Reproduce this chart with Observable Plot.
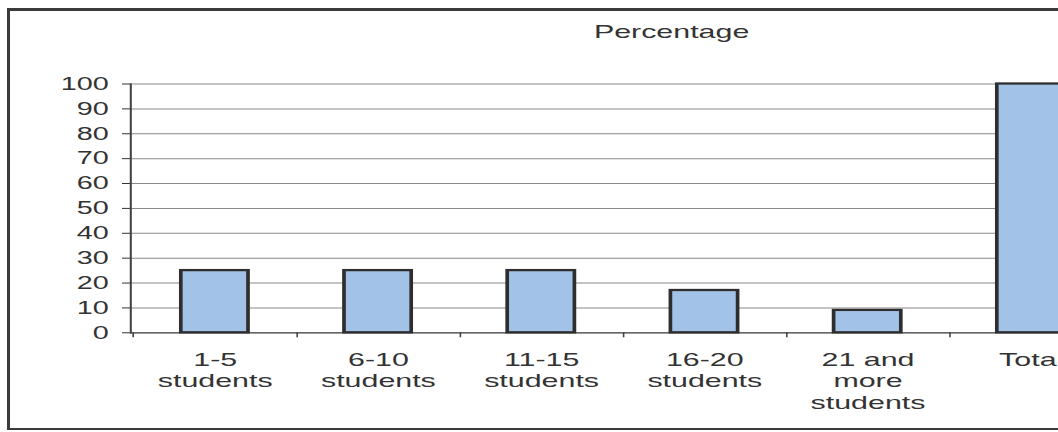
<!DOCTYPE html>
<html>
<head>
<meta charset="utf-8">
<script src="https://cdn.jsdelivr.net/npm/d3@7"></script>
<script src="https://cdn.jsdelivr.net/npm/@observablehq/plot@0.6"></script>
<style>
  html, body { margin: 0; padding: 0; background: #fff; overflow: hidden; width: 1058px; height: 432px; }
  #wrap { position: relative; width: 1058px; height: 432px; overflow: hidden; }
  #frame { position: absolute; left: 7px; top: 8px; width: 1200px; height: 422px; border: 3px solid #3b3b3b; border-bottom-width: 2px; box-sizing: border-box; pointer-events: none; }
  #wrap svg { position: absolute; left: 0; top: 0; }
</style>
</head>
<body>
<div id="wrap"></div>
<script>
// ---- data ----
const categories = ["1-5\nstudents", "6-10\nstudents", "11-15\nstudents", "16-20\nstudents", "21 and\nmore\nstudents", "Total"];
const percentages = [25, 25, 25, 17, 9, 100];
const yTicks = [0, 10, 20, 30, 40, 50, 60, 70, 80, 90, 100];
const chartTitle = "Percentage";

const data = categories.map((c, i) => ({ category: c, value: percentages[i] }));

// The reference is horizontally stretched; draw at a narrower width and stretch the SVG.
const SX = 1.6;
const W = 1058 / SX, H = 432;
const left = 130 / SX, step = 164 / SX;
const ink = "#333";

const chart = Plot.plot({
  width: W,
  height: H,
  marginLeft: left,
  marginRight: 0,
  marginTop: 83.5,
  marginBottom: 99.7,
  style: { fontFamily: "'Liberation Sans', Arial, sans-serif", fontSize: "18px", color: ink, background: "transparent" },
  x: { domain: categories, range: [left, left + step * categories.length], paddingInner: 0.59, paddingOuter: 0.295, label: null },
  y: { domain: [0, 100], label: null },
  marks: [
    Plot.gridY(yTicks, { stroke: "#8a8a8a", strokeOpacity: 1, strokeWidth: 1 }),
    Plot.axisY(yTicks, { tickSize: 5, tickPadding: 8.75, fontSize: 18, color: ink, label: null }),
    Plot.ruleY([0], { stroke: "#555", strokeWidth: 1.2 }),
    Plot.axisX(categories.slice(0, -1), { tickSize: 5, tickFormat: () => "", dx: step / 2, stroke: "#444", label: null }),
    Plot.axisX(categories.slice(0, 1), { tickSize: 5, tickFormat: () => "", dx: -step / 2, stroke: "#444", label: null }),
    Plot.axisX({ tickSize: 0, tickPadding: 17.5, fontSize: 19, lineHeight: 1.14, color: ink, label: null }),
    Plot.frame({ anchor: "left", stroke: "#444", strokeWidth: 1.3 }),
    Plot.barY(data, { x: "category", y: "value", fill: "#a3c2e8", stroke: "#2e2e2e", strokeWidth: 2.3 }),
    Plot.text([chartTitle], { text: d => d, frameAnchor: "top", lineAnchor: "top", dx: 48, dy: -59.3, fontSize: 19, fill: ink })
  ]
});

chart.setAttribute("width", 1058);
chart.setAttribute("height", H);
chart.setAttribute("viewBox", `0 0 ${W} ${H}`);
chart.setAttribute("preserveAspectRatio", "none");
chart.style.maxWidth = "none";
chart.style.width = "1058px";
chart.style.height = H + "px";

const wrap = document.getElementById("wrap");
wrap.appendChild(chart);
const frame = document.createElement("div");
frame.id = "frame";
wrap.appendChild(frame);
</script>
</body>
</html>
